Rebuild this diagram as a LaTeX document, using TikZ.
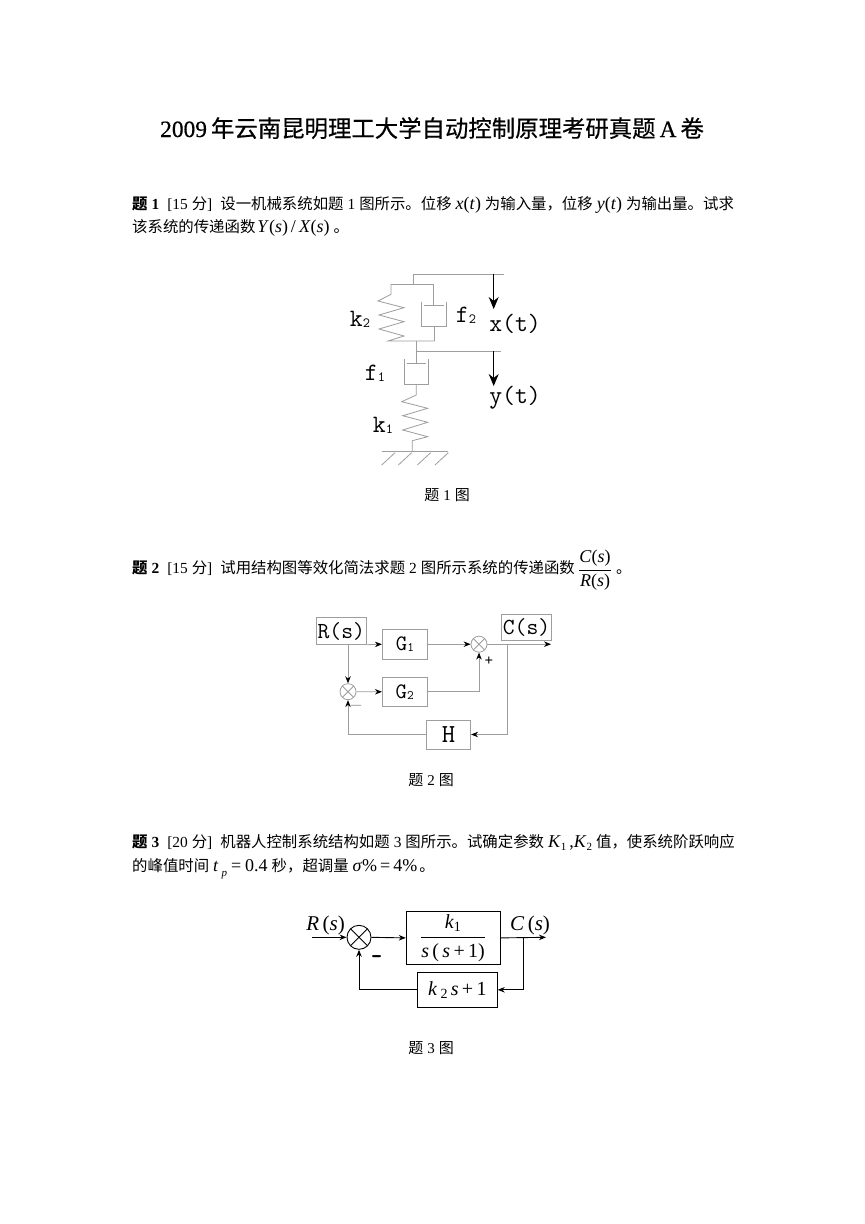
\documentclass[tikz,border=0pt]{standalone}
\usepackage{fontspec}
\setmainfont{Liberation Serif}
\newfontfamily\cjk{Noto Sans CJK SC}
\newfontfamily\cjkhead[FakeBold=0.5]{Noto Sans CJK SC}
\newfontfamily\romhead[FakeBold=0.5]{Liberation Serif}
\usetikzlibrary{arrows.meta}
\newcommand{\zh}[1]{{\cjk #1}}
\newcommand{\zt}[1]{{\cjkhead #1}}
\newcommand{\vi}[1]{\textit{#1}}
\newcommand{\mth}[1]{{\fontsize{18}{18}\selectfont #1}}
\newcommand{\low}[2]{\raisebox{#1}{\fontsize{11}{11}\selectfont #2}}
\newcommand{\sep}{\hspace{4pt}}
\newcommand{\fwc}{\symbol{"FF0C}}
\tikzset{
        >={Stealth[length=7pt,width=5.5pt,color=black]},
        line/.style={anchor=base west, inner sep=0pt, font=\fontsize{15.4}{17}\selectfont},
        caption/.style={inner sep=0pt, font=\fontsize{15}{17}\selectfont},
        mono/.style={inner sep=0pt, font=\fontsize{25}{26}\ttfamily},
        faint/.style={draw=black!38, line width=0.8pt},
        block/.style={faint, rectangle, inner sep=0pt},
        sumjct/.style n args={2}{circle, draw, inner sep=0pt, minimum size=#1,
                path picture={
                        \draw[draw=#2] (path picture bounding box.north west) -- (path picture bounding box.south east);
                        \draw[draw=#2] (path picture bounding box.north east) -- (path picture bounding box.south west);
                }},
        blockb/.style={draw, line width=0.9pt, rectangle, inner sep=0pt}
}
\begin{document}
\begin{tikzpicture}[x=1pt, y=-1pt]
        \useasboundingbox[fill=white] (0,0) rectangle (865,1224);

        \node[line, font=\fontsize{23.4}{26}\romhead] (title) at (160,137) {2009\sep\zt{年云南昆明理工大学自动控制原理考研真题}\sep A\sep\zt{卷}};

        \node[line] (qa1) at (132,209) {\textbf{\zh{题}\sep 1}\sep\sep[15\sep\zh{分}]\sep\sep\zh{设一机械系统如题}\sep 1\sep\zh{图所示。位移}\sep\mth{\vi{x}(\vi{t})}\sep\zh{为输入量\fwc 位移}\sep\mth{\vi{y}(\vi{t})}\sep\zh{为输出量。试求}};
        \node[line] (qa2) at (132,232) {\zh{该系统的传递函数}\hspace{2pt}\mth{\vi{Y}(\vi{s})\hspace{3pt}/\hspace{3pt}\vi{X}(\vi{s})}\sep\zh{。}};

        \node[line] (qb1) at (132,573) {\textbf{\zh{题}\sep 2}\sep\sep[15\sep\zh{分}]\sep\sep\zh{试用结构图等效化简法求题}\sep 2\sep\zh{图所示系统的传递函数}};
        \node[line, anchor=center, font=\fontsize{18}{20}\selectfont] (qb2) at (595,570) {$\displaystyle\frac{\mbox{\vi{C}(\vi{s})}}{\mbox{\vi{R}(\vi{s})}}$};
        \node[line] (qb3) at (616,573) {\zh{。}};

        \node[line] (qc1) at (132,847) {\textbf{\zh{题}\sep 3}\sep\sep[20\sep\zh{分}]\sep\sep\zh{机器人控制系统结构如题}\sep 3\sep\zh{图所示。试确定参数}\sep\mth{\vi{K}\low{-3pt}{1}\,,\vi{K}\low{-3pt}{2}}\sep\zh{值\fwc 使系统阶跃响应}};
        \node[line] (qc2) at (132,871) {\zh{的峰值时间}\sep\mth{\vi{t}\,\low{-5pt}{\vi{p}}\sep=\sep 0.4}\sep\zh{秒\fwc 超调量}\sep\mth{\vi{σ}\%\hspace{3pt}=\hspace{3pt}4\%}\hspace{2pt}\zh{。}};

        \draw[faint] (413,274.3) -- (504,274.3);
        \draw[faint] (413,274.3) -- (413,284);
        \draw[faint] (391,284) -- (433.7,284);
        \draw[faint] (391,284) -- (391,294.3) -- (378,301) -- (404,307.7) -- (379,315) -- (404,321.7) -- (379,329) -- (404,336) -- (388,341) -- (434.7,341);
        \draw[faint] (433.7,284) -- (433.7,305);
        \draw[faint] (423.7,305) -- (444,305);
        \draw[faint] (421.3,301.7) -- (421.3,326.7) -- (446,326.7) -- (446,301.7);
        \draw[faint] (434.7,326.7) -- (434.7,341);
        \draw[faint] (416.3,341) -- (416.3,363.3);
        \draw[faint] (416.3,351) -- (501,351);
        \draw[faint] (406.7,363.3) -- (426,363.3);
        \draw[faint] (404.3,359) -- (404.3,384) -- (428.7,384) -- (428.7,359);
        \draw[faint] (416.3,384) -- (416.3,395) -- (401.7,401.7) -- (427.7,408.3) -- (402.7,415.7) -- (427.7,422.3) -- (402.7,430) -- (427.7,436.7) -- (412.3,440.7) -- (412.3,451.7);
        \draw[faint] (381.7,451.7) -- (448.3,451.7);
        \foreach \hx in {381.7,398.3,417.3,435}
                \draw[faint] (\hx,465) -- (\hx+13.3,452.7);

        \coordinate (xtop) at (493.7,274.3);
        \coordinate (xend) at (493.7,309);
        \coordinate (ytop) at (493.7,351);
        \coordinate (yend) at (493.7,386);
        \draw[->, >={Stealth[length=12pt,width=10pt]}, line width=1pt] (xtop) -- (xend);
        \draw[->, >={Stealth[length=12pt,width=10pt]}, line width=1pt] (ytop) -- (yend);

        \node[mono] (kb) at (360,319) {k\raisebox{-1pt}{\fontsize{14}{14}\selectfont 2}};
        \node[mono] (fb) at (466,315) {f\raisebox{-1pt}{\fontsize{14}{14}\selectfont 2}};
        \node[mono] (xt) at (515,324) {x(t)};
        \node[mono] (fa) at (375,373) {f\raisebox{-1pt}{\fontsize{14}{14}\selectfont 1}};
        \node[mono] (yt) at (515,398) {y(t)};
        \node[mono] (ka) at (383,425) {k\raisebox{-1pt}{\fontsize{14}{14}\selectfont 1}};
        \node[caption] (capa) at (447,495) {\zh{题}\sep 1\sep\zh{图}};

        \node[block, mono, font=\fontsize{23}{24}\ttfamily, minimum width=50.7pt, minimum height=26.6pt] (Rs) at (341.3,631) {R(s)};
        \node[block, mono, font=\fontsize{23}{24}\ttfamily, minimum width=50.4pt, minimum height=25.7pt] (Cs) at (526.5,627.2) {C(s)};
        \node[block, minimum width=45.4pt, minimum height=29.7pt, font=\fontsize{22}{22}\ttfamily] (Ga) at (405,644.2) {G\raisebox{-1pt}{\fontsize{13}{13}\selectfont 1}};
        \node[block, minimum width=44.7pt, minimum height=29pt, font=\fontsize{22}{22}\ttfamily] (Gb) at (404.7,691.8) {G\raisebox{-1pt}{\fontsize{13}{13}\selectfont 2}};
        \node[block, minimum width=44.4pt, minimum height=29pt, font=\fontsize{26}{26}\ttfamily] (Hb) at (448.5,734.5) {H};
        \node[sumjct={16pt}{black!38}, faint] (suma) at (479,644.2) {};
        \node[sumjct={16pt}{black!38}, faint] (sumb) at (348,691.7) {};
        \coordinate (outb) at (551,644.2);
        \coordinate (tapb) at (507.3,644.2);

        \draw[->, faint] (Rs.south east) -- (Ga.west);
        \draw[->, faint] (Ga.east) -- (suma.west);
        \draw[->, faint] (suma.east) -- (outb);
        \draw[->, faint] (tapb) |- (Hb.east);
        \draw[->, faint] (Hb.west) -| (sumb.south);
        \draw[->, faint] (Rs.south -| sumb.north) -- (sumb.north);
        \draw[->, faint] (sumb.east) -- (Gb.west);
        \draw[->, faint] (Gb.east) -| (suma.south);
        \node[caption, font=\fontsize{15}{15}\selectfont\bfseries] (plusb) at (489,661.5) {+};
        \node[caption, text=black!35, font=\fontsize{20}{20}\selectfont] (minusb) at (356,708.3) {–};
        \node[caption] (capb) at (431,780) {\zh{题}\sep 2\sep\zh{图}};

        \node[blockb, minimum width=93.7pt, minimum height=52.3pt, font=\fontsize{20}{22}\selectfont] (Ka) at (453.1,937.9) {$\displaystyle\frac{\mbox{\vi{k}\textsubscript{\fontsize{14}{14}\selectfont 1}\rule[-5pt]{0pt}{5pt}}}{\mbox{\rule{0pt}{19pt}\vi{s}\,(\,\vi{s}\,+\,1)}}$};
        \node[blockb, minimum width=80pt, minimum height=34.3pt, font=\fontsize{20}{22}\selectfont] (Kb) at (457.3,989.8) {\vi{k}\,\raisebox{-3pt}{\fontsize{14}{14}\selectfont 2}\,\vi{s}\,+\,1};
        \node[sumjct={24pt}{black}, line width=0.9pt] (sumc) at (359,937.3) {};
        \coordinate (inc) at (312.3,937.3);
        \coordinate (outc) at (546,937.3);
        \coordinate (tapc) at (523.3,937.3);

        \draw[->, line width=0.9pt] (inc) -- (sumc.west);
        \draw[->, line width=0.9pt] (sumc.east) -- (Ka.west);
        \draw[->, line width=0.9pt] (Ka.east) -- (outc);
        \draw[->, line width=0.9pt] (tapc) |- (Kb.east);
        \draw[->, line width=0.9pt] (Kb.west) -| (sumc.south);
        \node[caption, font=\fontsize{21}{22}\selectfont] (Rc) at (325.5,925) {\vi{R}\,(\vi{s})};
        \node[caption, font=\fontsize{21}{22}\selectfont] (Cc) at (530,925) {\vi{C}\,(\vi{s})};
        \node[caption, font=\fontsize{30}{30}\sffamily\bfseries] (minusc) at (377.5,960) {-};
        \node[caption] (capc) at (431,1048) {\zh{题}\sep 3\sep\zh{图}};
\end{tikzpicture}
\end{document}
